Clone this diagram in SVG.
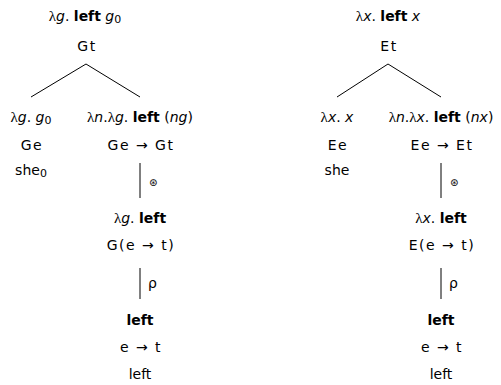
<svg xmlns="http://www.w3.org/2000/svg" width="501" height="385" viewBox="0 0 501 385">
<style>
text{font-family:"DejaVu Sans","Open Sans",sans-serif;font-size:14px;fill:#000;text-anchor:middle}
.b{font-weight:bold}
.i{font-style:italic}
.l{font-family:"Liberation Serif",serif;font-size:15px}
.t{letter-spacing:1.5px}
.s{font-size:11px}
.o{font-size:10px}
line{stroke:#000;stroke-width:1}
</style>
<rect width="501" height="385" fill="#fff"/>
<g id="connectors">
<line x1="86" y1="64" x2="31" y2="97"/>
<line x1="86" y1="64" x2="140" y2="97"/>
<line x1="140" y1="163" x2="140" y2="198"/>
<line x1="140" y1="268" x2="140" y2="299"/>
<line x1="388" y1="64" x2="337" y2="97"/>
<line x1="388" y1="64" x2="441" y2="97"/>
<line x1="441" y1="163" x2="441" y2="198"/>
<line x1="441" y1="268" x2="441" y2="299"/>
<text x="149" y="186" class="o" style="text-anchor:start">⊛</text>
<text x="148" y="288" style="text-anchor:start">ρ</text>
<text x="450" y="186" class="o" style="text-anchor:start">⊛</text>
<text x="449" y="288" style="text-anchor:start">ρ</text>
</g>
<g id="root-left">
<text x="85" y="21"><tspan class="l">λ</tspan><tspan class="i">g</tspan>. <tspan class="b">left</tspan> <tspan class="i">g</tspan><tspan class="s" dy="2">0</tspan></text>
<text x="87" y="51" class="t">Gt</text>
</g>
<g id="pron-left">
<text x="31" y="122"><tspan class="l">λ</tspan><tspan class="i">g</tspan>. <tspan class="i">g</tspan><tspan class="s" dy="2">0</tspan></text>
<text x="32" y="150" class="t">Ge</text>
<text x="31" y="175">she<tspan class="s" dy="2">0</tspan></text>
</g>
<g id="fn-left">
<text x="140" y="122"><tspan class="l">λ</tspan><tspan class="i">n</tspan>.<tspan class="l">λ</tspan><tspan class="i">g</tspan>. <tspan class="b">left</tspan> (<tspan class="i">ng</tspan>)</text>
<text x="141" y="150" class="t">Ge → Gt</text>
</g>
<g id="mid-left">
<text x="140" y="223"><tspan class="l">λ</tspan><tspan class="i">g</tspan>. <tspan class="b">left</tspan></text>
<text x="141" y="250" class="t">G(e → t)</text>
</g>
<g id="leaf-left">
<text x="140" y="325" class="b">left</text>
<text x="141" y="352" class="t">e → t</text>
<text x="140" y="379">left</text>
</g>
<g id="root-right">
<text x="388" y="21"><tspan class="l">λ</tspan><tspan class="i">x</tspan>. <tspan class="b">left</tspan> <tspan class="i">x</tspan></text>
<text x="389" y="51" class="t">Et</text>
</g>
<g id="pron-right">
<text x="337" y="122"><tspan class="l">λ</tspan><tspan class="i">x</tspan>. <tspan class="i">x</tspan></text>
<text x="338" y="150" class="t">Ee</text>
<text x="337" y="175">she</text>
</g>
<g id="fn-right">
<text x="441" y="122"><tspan class="l">λ</tspan><tspan class="i">n</tspan>.<tspan class="l">λ</tspan><tspan class="i">x</tspan>. <tspan class="b">left</tspan> (<tspan class="i">nx</tspan>)</text>
<text x="442" y="150" class="t">Ee → Et</text>
</g>
<g id="mid-right">
<text x="441" y="223"><tspan class="l">λ</tspan><tspan class="i">x</tspan>. <tspan class="b">left</tspan></text>
<text x="442" y="250" class="t">E(e → t)</text>
</g>
<g id="leaf-right">
<text x="441" y="325" class="b">left</text>
<text x="442" y="352" class="t">e → t</text>
<text x="441" y="379">left</text>
</g>
</svg>
